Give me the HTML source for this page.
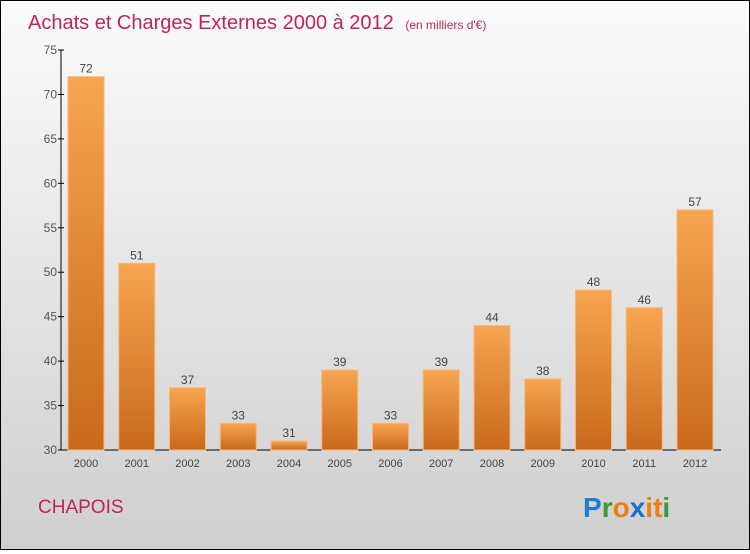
<!DOCTYPE html>
<html><head><meta charset="utf-8"><style>
html,body{margin:0;padding:0}
body{width:750px;height:550px;overflow:hidden;font-family:"Liberation Sans",sans-serif}
#wrap{position:relative;width:748px;height:548px;border:1px solid #000;background:linear-gradient(#fbfbfb,#cfcfcf)}
</style></head><body>
<div id="wrap">
<svg id="chart" width="748" height="548">
<defs><linearGradient id="bg" x1="0" y1="0" x2="0" y2="1"><stop offset="0" stop-color="#f7a550"/><stop offset="1" stop-color="#c8691c"/></linearGradient></defs>
<text x="27" y="28" font-size="20" fill="#c0245a">Achats et Charges Externes 2000 à 2012 <tspan font-size="12" dx="6">(en milliers d'€)</tspan></text>
<text x="37" y="512" font-size="19" fill="#c0245a">CHAPOIS</text>
<g font-size="28" font-weight="bold" font-family="Liberation Sans,sans-serif">
<text x="582" y="516"><tspan fill="#1a7fd4">P</tspan><tspan fill="#3a9a3a">r</tspan><tspan fill="#f07c10">o</tspan><tspan fill="#1a6fd0">x</tspan><tspan fill="#f07c10">i</tspan><tspan fill="#f07c10">t</tspan><tspan fill="#3a9a3a">i</tspan></text></g>
<g id="plot"></g>
</svg></div>
<script>
const years=["2000","2001","2002","2003","2004","2005","2006","2007","2008","2009","2010","2011","2012"];
const values=[72,51,37,33,31,39,33,39,44,38,48,46,57];
const ticks=[30,35,40,45,50,55,60,65,70,75];
const ns="http://www.w3.org/2000/svg";
const g=document.getElementById('plot');
const y0=449,y1=49,vmin=30,vmax=75,axisX=60,x0=85,step=50.75,bw=36;
const y=v=>y0-(v-vmin)/(vmax-vmin)*(y0-y1);
const x=i=>x0+i*step;
function mk(t,a){const e=document.createElementNS(ns,t);for(const k in a)e.setAttribute(k,a[k]);g.appendChild(e);return e;}
let e=mk('line',{x1:axisX,y1:y1,x2:axisX,y2:y0,stroke:'#000'});


e=mk('line',{x1:axisX,y1:y0,x2:720,y2:y0,stroke:'#000'});


ticks.forEach(t=>{
 let l=mk('line',{x1:axisX-3,x2:axisX+3,y1:y(t),y2:y(t),stroke:'#000'});
 
 
 let s=mk('text',{x:axisX-4,y:y(t)+4,'font-size':12,fill:'#555','text-anchor':'end'});s.textContent=t;
 
 
});
values.forEach((v,i)=>{
 let r=mk('rect',{x:x(i)-bw/2,y:y(v),width:bw,height:y0-y(v),fill:'url(#bg)',stroke:'#f8b878','stroke-width':1});
 
 
 let t=mk('text',{x:x(i),y:y(v)-4,'font-size':12,fill:'#444','text-anchor':'middle'});t.textContent=v;
 
 
 let c=mk('text',{x:x(i),y:466,'font-size':11,fill:'#444','text-anchor':'middle'});c.textContent=years[i];
 
 
});
</script>
</body></html>
